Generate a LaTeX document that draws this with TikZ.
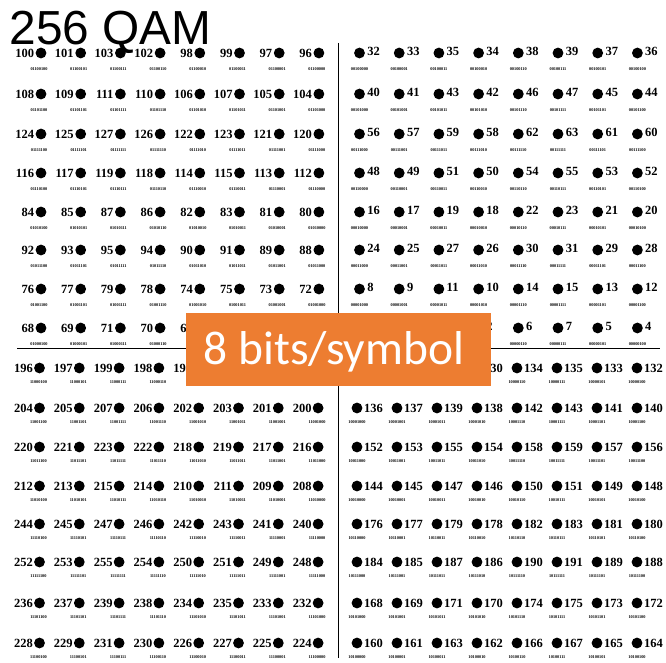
\documentclass[tikz,border=0pt]{standalone}
\usepackage{fontspec}
\newfontfamily\numfont{Liberation Serif}
\newfontfamily\titlefont{Liberation Sans}
\newfontfamily\boxfont{Carlito}
\definecolor{qorange}{HTML}{ED7D31}
\newcommand\qbits[1]{%
  \pgfmathtruncatemacro\qbA{mod(floor(#1/128),2)}%
  \pgfmathtruncatemacro\qbB{mod(floor(#1/64),2)}%
  \pgfmathtruncatemacro\qbC{mod(floor(#1/32),2)}%
  \pgfmathtruncatemacro\qbD{mod(floor(#1/16),2)}%
  \pgfmathtruncatemacro\qbE{mod(floor(#1/8),2)}%
  \pgfmathtruncatemacro\qbF{mod(floor(#1/4),2)}%
  \pgfmathtruncatemacro\qbG{mod(floor(#1/2),2)}%
  \pgfmathtruncatemacro\qbH{mod(#1,2)}%
  \qbA\qbB\qbC\qbD\qbE\qbF\qbG\qbH}
\begin{document}
\begin{tikzpicture}[x=1pt,y=-1pt,
  qdot/.style={circle,fill=black,minimum size=10.8pt,inner sep=0pt},
  qnum/.style={font=\numfont\bfseries\fontsize{12.5}{12.5}\selectfont,inner sep=0pt},
  qbin/.style={font=\numfont\bfseries\fontsize{4.3}{4.3}\selectfont,inner sep=0pt},
  axis/.style={line width=1.6pt},
  obox/.style={fill=qorange,minimum width=305pt,minimum height=73pt,inner sep=0pt},
  otext/.style={font=\boxfont\fontsize{47.5}{47.5}\selectfont,text=white,inner sep=0pt}]
\useasboundingbox (0,0) rectangle (666,663);
\fill[white] (0,0) rectangle (666,663);
% axes
\coordinate (hl) at (17,348.5);
\coordinate (hr) at (660,348.5);
\coordinate (vt) at (338.5,43);
\coordinate (vb) at (338.5,658);
\draw[axis] (hl) -- (hr);
\draw[axis] (vt) -- (vb);
% top-left quadrant
\foreach \rowvals [count=\j from 0] in {{100,101,103,102,98,99,97,96},{108,109,111,110,106,107,105,104},{124,125,127,126,122,123,121,120},{116,117,119,118,114,115,113,112},{84,85,87,86,82,83,81,80},{92,93,95,94,90,91,89,88},{76,77,79,78,74,75,73,72},{68,69,71,70,66,67,65,64}} {
  \pgfmathsetmacro\yy{{53,94,134,173,212,250,289,328}[\j]}
  \foreach \n [count=\i from 0] in \rowvals {
    \pgfmathsetmacro\xx{41+39.7*\i}
    \node[qdot] (d\n) at (\xx,\yy) {};
    \node[qnum,anchor=east] (n\n) at ([xshift=-1.2pt]d\n.west) {\n};
    \node[qbin] (b\n) at (\xx-2,\yy+16.5) {\qbits{\n}};
  }
}
% top-right quadrant
\foreach \rowvals [count=\j from 0] in {{32,33,35,34,38,39,37,36},{40,41,43,42,46,47,45,44},{56,57,59,58,62,63,61,60},{48,49,51,50,54,55,53,52},{16,17,19,18,22,23,21,20},{24,25,27,26,30,31,29,28},{8,9,11,10,14,15,13,12},{0,1,3,2,6,7,5,4}} {
  \pgfmathsetmacro\yy{{53,94,134,173,212,250,289,328}[\j]}
  \foreach \n [count=\i from 0] in \rowvals {
    \pgfmathsetmacro\xx{359.5+39.7*\i}
    \node[qdot] (d\n) at (\xx,\yy) {};
    \node[qnum,anchor=west] (n\n) at ([xshift=2pt,yshift=1.5pt]d\n.east) {\n};
    \node[qbin] (b\n) at (\xx,\yy+16) {\qbits{\n}};
  }
}
% bottom-left quadrant
\foreach \rowvals [count=\j from 0] in {{196,197,199,198,194,195,193,192},{204,205,207,206,202,203,201,200},{220,221,223,222,218,219,217,216},{212,213,215,214,210,211,209,208},{244,245,247,246,242,243,241,240},{252,253,255,254,250,251,249,248},{236,237,239,238,234,235,233,232},{228,229,231,230,226,227,225,224}} {
  \pgfmathsetmacro\yy{{368,408,447,486,524,562,603,643}[\j]}
  \foreach \n [count=\i from 0] in \rowvals {
    \pgfmathsetmacro\xx{39.5+39.8*\i}
    \node[qdot] (d\n) at (\xx,\yy) {};
    \node[qnum,anchor=east] (n\n) at ([xshift=-0.8pt]d\n.west) {\n};
    \node[qbin] (b\n) at (\xx-1,\yy+14) {\qbits{\n}};
  }
}
% bottom-right quadrant
\foreach \rowvals [count=\j from 0] in {{128,129,131,130,134,135,133,132},{136,137,139,138,142,143,141,140},{152,153,155,154,158,159,157,156},{144,145,147,146,150,151,149,148},{176,177,179,178,182,183,181,180},{184,185,187,186,190,191,189,188},{168,169,171,170,174,175,173,172},{160,161,163,162,166,167,165,164}} {
  \pgfmathsetmacro\yy{{368,408,447,486,524,562,603,643}[\j]}
  \foreach \n [count=\i from 0] in \rowvals {
    \pgfmathsetmacro\xx{357+40*\i}
    \node[qdot] (d\n) at (\xx,\yy) {};
    \node[qnum,anchor=west] (n\n) at ([xshift=1.2pt]d\n.east) {\n};
    \node[qbin] (b\n) at (\xx,\yy+14) {\qbits{\n}};
  }
}
% title
\node[font=\titlefont\fontsize{47.8}{47.8}\selectfont,anchor=base west,inner sep=0pt] (title) at (9.5,45) {256 QAM};
% orange box
\node[obox] (box) at (338.5,349.5) {};
\node[otext,anchor=base] (boxlabel) at (334,364) {8 bits/symbol};
\end{tikzpicture}
\end{document}
